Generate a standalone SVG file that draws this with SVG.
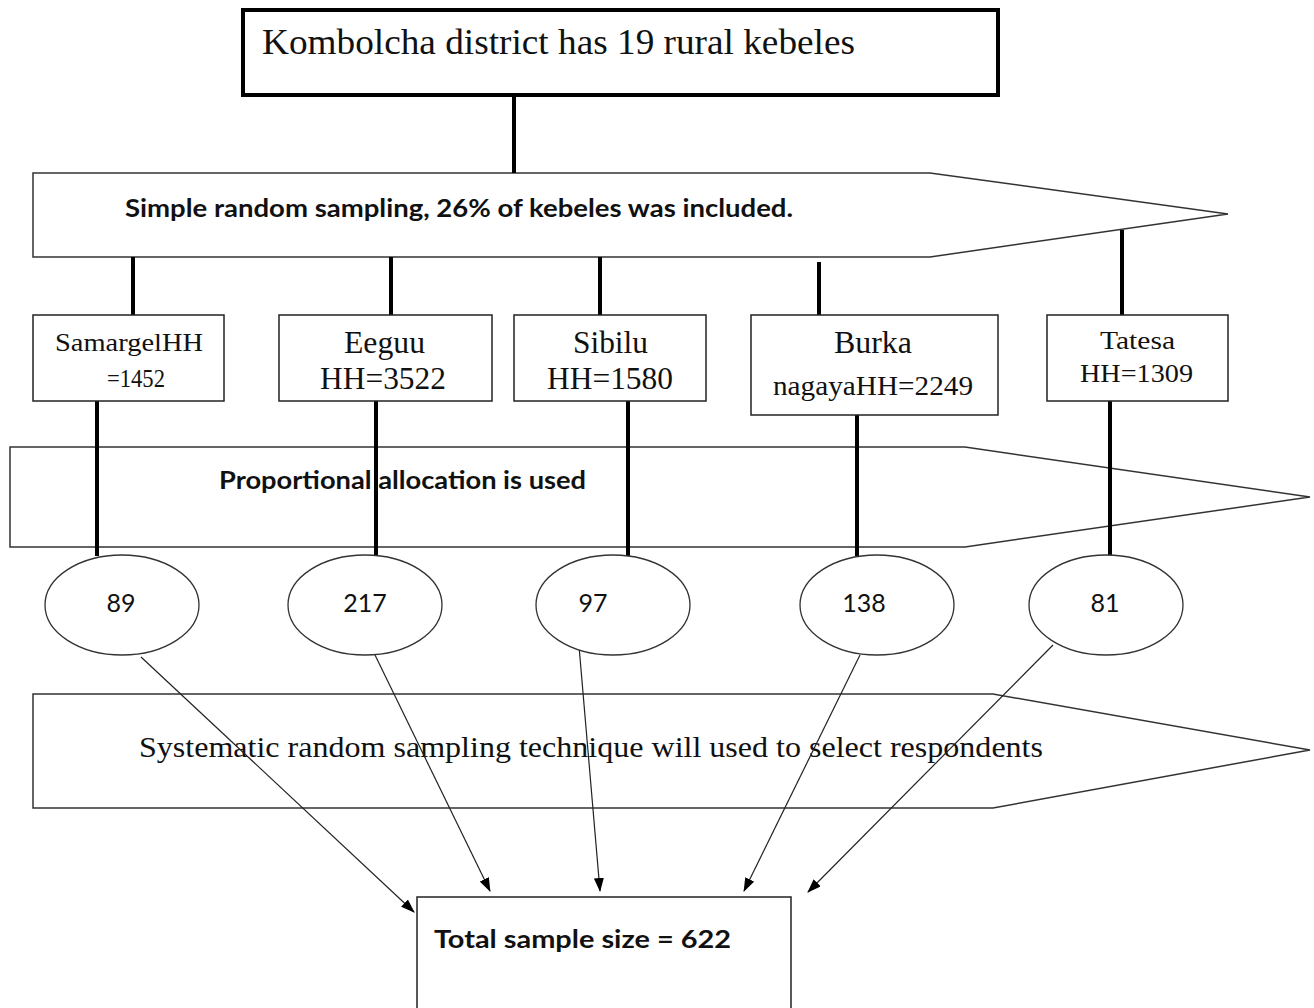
<svg xmlns="http://www.w3.org/2000/svg" width="1314" height="1008" viewBox="0 0 1314 1008">
<style>
.bg{fill:#fff}
.box{fill:#fff;stroke:#222;stroke-width:1.5}
.topbox{fill:#fff;stroke:#000;stroke-width:4}
.pent{fill:#fff;stroke:#333;stroke-width:1.5}
.ell{fill:#fff;stroke:#333;stroke-width:1.3}
.thick{stroke:#000;stroke-width:4;fill:none}
.arr{stroke:#222;stroke-width:1.2;fill:none;marker-end:url(#ah)}
.serif{font-family:"Liberation Serif","Times New Roman",serif;fill:#111}
.sansb{font-family:Lato,"Liberation Sans",sans-serif;font-weight:bold;fill:#111}
.sans{font-family:Lato,"Liberation Sans",sans-serif;fill:#111}
</style>
<defs>
<marker id="ah" markerWidth="14" markerHeight="10" refX="13" refY="5" orient="auto" markerUnits="userSpaceOnUse">
<path d="M0,0 L14,5 L0,10 Z" fill="#000"/>
</marker>
</defs>
<rect class="bg" x="0" y="0" width="1314" height="1008"/>

<g id="pentagon-simple-random">
<polygon class="pent" points="33,173 930,173 1228,214 930,257 33,257"/>
<text class="sansb" x="125" y="217" font-size="24" textLength="668" lengthAdjust="spacingAndGlyphs">Simple random sampling, 26% of kebeles was included.</text>
</g>
<g id="pentagon-proportional">
<polygon class="pent" points="10,447 965,447 1310,497 965,547 10,547"/>
<text class="sansb" x="219" y="489" font-size="24" textLength="367" lengthAdjust="spacingAndGlyphs">Proportional allocation is used</text>
</g>
<g id="pentagon-systematic">
<polygon class="pent" points="33,694 993,694 1310,750 993,808 33,808"/>
<text class="serif" x="139" y="757" font-size="30" textLength="904" lengthAdjust="spacingAndGlyphs">Systematic random sampling technique will used to select respondents</text>
</g>

<g id="connectors">
<line class="thick" x1="514" y1="95" x2="514" y2="173"/>
<line class="thick" x1="133" y1="257" x2="133" y2="315"/>
<line class="thick" x1="391" y1="257" x2="391" y2="315"/>
<line class="thick" x1="600" y1="257" x2="600" y2="315"/>
<line class="thick" x1="819" y1="262" x2="819" y2="315"/>
<line class="thick" x1="1122" y1="230" x2="1122" y2="315"/>
<line class="thick" x1="97" y1="401" x2="97" y2="556"/>
<line class="thick" x1="376" y1="401" x2="376" y2="556"/>
<line class="thick" x1="628" y1="401" x2="628" y2="556"/>
<line class="thick" x1="857" y1="415" x2="857" y2="556"/>
<line class="thick" x1="1110" y1="401" x2="1110" y2="556"/>
<line class="arr" x1="141" y1="657" x2="414" y2="912"/>
<line class="arr" x1="375" y1="655" x2="490" y2="891"/>
<line class="arr" x1="579" y1="646" x2="600" y2="891"/>
<line class="arr" x1="860" y1="655" x2="744" y2="891"/>
<line class="arr" x1="1053" y1="645" x2="808" y2="892"/>
</g>

<g id="node-kombolcha">
<rect class="topbox" x="243" y="10" width="755" height="85"/>
<text class="serif" x="262" y="54" font-size="35" textLength="593" lengthAdjust="spacingAndGlyphs">Kombolcha district has 19 rural kebeles</text>
</g>

<g id="node-samargel">
<rect class="box" x="33" y="315" width="191" height="86"/>
<text class="serif" x="55" y="351" font-size="26" textLength="148" lengthAdjust="spacingAndGlyphs">SamargelHH</text>
<text class="serif" x="107" y="387" font-size="26" textLength="58" lengthAdjust="spacingAndGlyphs">=1452</text>
</g>
<g id="node-eeguu">
<rect class="box" x="279" y="315" width="213" height="86"/>
<text class="serif" x="344" y="353" font-size="31" textLength="81" lengthAdjust="spacingAndGlyphs">Eeguu</text>
<text class="serif" x="320" y="389" font-size="31" textLength="126" lengthAdjust="spacingAndGlyphs">HH=3522</text>
</g>
<g id="node-sibilu">
<rect class="box" x="514" y="315" width="192" height="86"/>
<text class="serif" x="573" y="353" font-size="31" textLength="75" lengthAdjust="spacingAndGlyphs">Sibilu</text>
<text class="serif" x="547" y="389" font-size="31" textLength="126" lengthAdjust="spacingAndGlyphs">HH=1580</text>
</g>
<g id="node-burka">
<rect class="box" x="751" y="315" width="247" height="100"/>
<text class="serif" x="834" y="353" font-size="31" textLength="78" lengthAdjust="spacingAndGlyphs">Burka</text>
<text class="serif" x="773" y="395" font-size="28" textLength="200" lengthAdjust="spacingAndGlyphs">nagayaHH=2249</text>
</g>
<g id="node-tatesa">
<rect class="box" x="1047" y="315" width="181" height="86"/>
<text class="serif" x="1100" y="349" font-size="26" textLength="75" lengthAdjust="spacingAndGlyphs">Tatesa</text>
<text class="serif" x="1080" y="382" font-size="26" textLength="113" lengthAdjust="spacingAndGlyphs">HH=1309</text>
</g>

<g id="node-89">
<ellipse class="ell" cx="122" cy="605" rx="77" ry="50"/>
<text class="sans" x="121" y="612" font-size="25" text-anchor="middle">89</text>
</g>
<g id="node-217">
<ellipse class="ell" cx="365" cy="605" rx="77" ry="50"/>
<text class="sans" x="365" y="612" font-size="25" text-anchor="middle">217</text>
</g>
<g id="node-97">
<ellipse class="ell" cx="613" cy="605" rx="77" ry="50"/>
<text class="sans" x="593" y="612" font-size="25" text-anchor="middle">97</text>
</g>
<g id="node-138">
<ellipse class="ell" cx="877" cy="605" rx="77" ry="50"/>
<text class="sans" x="864" y="612" font-size="25" text-anchor="middle">138</text>
</g>
<g id="node-81">
<ellipse class="ell" cx="1106" cy="605" rx="77" ry="50"/>
<text class="sans" x="1105" y="612" font-size="25" text-anchor="middle">81</text>
</g>

<g id="node-total">
<rect class="box" x="417" y="897" width="374" height="120"/>
<text class="sansb" x="434" y="948" font-size="24" textLength="297" lengthAdjust="spacingAndGlyphs">Total sample size = 622</text>
</g>
</svg>
